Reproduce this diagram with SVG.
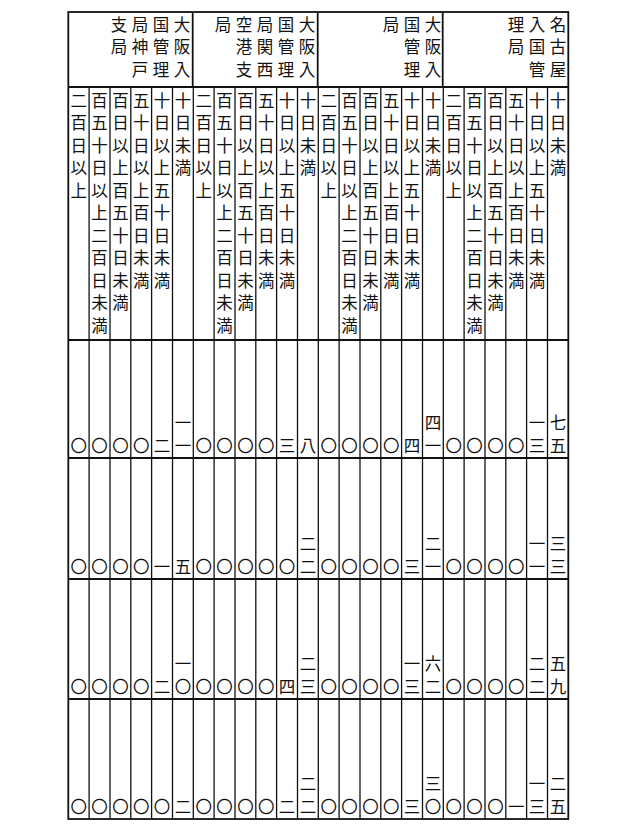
<svg xmlns="http://www.w3.org/2000/svg" width="644" height="831" viewBox="0 0 644 831">
<style>
text{font-family:"Noto Sans CJK JP","Noto Sans CJK SC",sans-serif;font-size:16.5px;fill:#111;text-anchor:middle}
.v{writing-mode:vertical-rl;letter-spacing:6px;text-anchor:start}
line{stroke:#111;stroke-width:1.3}
.b{stroke-width:1.8}
</style>
<rect width="644" height="831" fill="#fff"/>
<g id="grid">
<rect x="68.3" y="12" width="500" height="807" fill="none" stroke="#111" stroke-width="1.8"/>
<line x1="68.3" y1="87" x2="568.3" y2="87" class="b"/>
<line x1="68.3" y1="340" x2="568.3" y2="340" class="b"/>
<line x1="68.3" y1="458" x2="568.3" y2="458" class="b"/>
<line x1="68.3" y1="579" x2="568.3" y2="579" class="b"/>
<line x1="68.3" y1="699" x2="568.3" y2="699" class="b"/>
<line x1="192.7" y1="12" x2="192.7" y2="87" class="b"/>
<line x1="317.7" y1="12" x2="317.7" y2="87" class="b"/>
<line x1="442.7" y1="12" x2="442.7" y2="87" class="b"/>
<line x1="89.1" y1="87" x2="89.1" y2="819"/><line x1="110" y1="87" x2="110" y2="819"/><line x1="130.8" y1="87" x2="130.8" y2="819"/><line x1="151.6" y1="87" x2="151.6" y2="819"/><line x1="172.5" y1="87" x2="172.5" y2="819"/><line x1="193.3" y1="87" x2="193.3" y2="819"/><line x1="214.1" y1="87" x2="214.1" y2="819"/><line x1="235" y1="87" x2="235" y2="819"/><line x1="255.8" y1="87" x2="255.8" y2="819"/><line x1="276.6" y1="87" x2="276.6" y2="819"/><line x1="297.5" y1="87" x2="297.5" y2="819"/><line x1="318.3" y1="87" x2="318.3" y2="819"/><line x1="339.1" y1="87" x2="339.1" y2="819"/><line x1="360" y1="87" x2="360" y2="819"/><line x1="380.8" y1="87" x2="380.8" y2="819"/><line x1="401.6" y1="87" x2="401.6" y2="819"/><line x1="422.5" y1="87" x2="422.5" y2="819"/><line x1="443.3" y1="87" x2="443.3" y2="819"/><line x1="464.1" y1="87" x2="464.1" y2="819"/><line x1="485" y1="87" x2="485" y2="819"/><line x1="505.8" y1="87" x2="505.8" y2="819"/><line x1="526.6" y1="87" x2="526.6" y2="819"/><line x1="547.5" y1="87" x2="547.5" y2="819"/>
</g>
<g id="headers">
<text class="v" x="558" y="16">名古屋</text><text class="v" x="537" y="16">入国管</text><text class="v" x="516" y="16">理局</text>
<text class="v" x="433" y="16">大阪入</text><text class="v" x="412" y="16">国管理</text><text class="v" x="391" y="16">局</text>
<text class="v" x="307" y="16">大阪入</text><text class="v" x="286" y="16">国管理</text><text class="v" x="265" y="16">局関西</text><text class="v" x="244" y="16">空港支</text><text class="v" x="223" y="16">局</text>
<text class="v" x="182" y="16">大阪入</text><text class="v" x="161" y="16">国管理</text><text class="v" x="140" y="16">局神戸</text><text class="v" x="119" y="16">支局</text>
</g>
<g id="rowlabels">
<text class="v" x="557.9" y="92">十日未満</text><text class="v" x="537" y="92">十日以上五十日未満</text><text class="v" x="516.2" y="92">五十日以上百日未満</text><text class="v" x="495.4" y="92">百日以上百五十日未満</text><text class="v" x="474.5" y="92">百五十日以上二百日未満</text><text class="v" x="453.7" y="92">二百日以上</text>
<text class="v" x="432.9" y="92">十日未満</text><text class="v" x="412" y="92">十日以上五十日未満</text><text class="v" x="391.2" y="92">五十日以上百日未満</text><text class="v" x="370.4" y="92">百日以上百五十日未満</text><text class="v" x="349.5" y="92">百五十日以上二百日未満</text><text class="v" x="328.7" y="92">二百日以上</text>
<text class="v" x="307.9" y="92">十日未満</text><text class="v" x="287" y="92">十日以上五十日未満</text><text class="v" x="266.2" y="92">五十日以上百日未満</text><text class="v" x="245.4" y="92">百日以上百五十日未満</text><text class="v" x="224.5" y="92">百五十日以上二百日未満</text><text class="v" x="203.7" y="92">二百日以上</text>
<text class="v" x="182.9" y="92">十日未満</text><text class="v" x="162" y="92">十日以上五十日未満</text><text class="v" x="141.2" y="92">五十日以上百日未満</text><text class="v" x="120.4" y="92">百日以上百五十日未満</text><text class="v" x="99.5" y="92">百五十日以上二百日未満</text><text class="v" x="78.7" y="92">二百日以上</text>
</g>
<g id="row1">
<text x="78.7" y="452">〇</text><text x="99.5" y="452">〇</text><text x="120.4" y="452">〇</text><text x="141.2" y="452">〇</text><text x="162" y="452">二</text><text x="182.9" y="429">一</text><text x="182.9" y="452">一</text><text x="203.7" y="452">〇</text><text x="224.5" y="452">〇</text><text x="245.4" y="452">〇</text><text x="266.2" y="452">〇</text><text x="287" y="452">三</text><text x="307.9" y="452">八</text><text x="328.7" y="452">〇</text><text x="349.5" y="452">〇</text><text x="370.4" y="452">〇</text><text x="391.2" y="452">〇</text><text x="412" y="452">四</text><text x="432.9" y="429">四</text><text x="432.9" y="452">一</text><text x="453.7" y="452">〇</text><text x="474.5" y="452">〇</text><text x="495.4" y="452">〇</text><text x="516.2" y="452">〇</text><text x="537" y="429">一</text><text x="537" y="452">三</text><text x="557.9" y="429">七</text><text x="557.9" y="452">五</text>
</g>
<g id="row2">
<text x="78.7" y="573">〇</text><text x="99.5" y="573">〇</text><text x="120.4" y="573">〇</text><text x="141.2" y="573">〇</text><text x="162" y="573">一</text><text x="182.9" y="573">五</text><text x="203.7" y="573">〇</text><text x="224.5" y="573">〇</text><text x="245.4" y="573">〇</text><text x="266.2" y="573">〇</text><text x="287" y="573">〇</text><text x="307.9" y="550">二</text><text x="307.9" y="573">二</text><text x="328.7" y="573">〇</text><text x="349.5" y="573">〇</text><text x="370.4" y="573">〇</text><text x="391.2" y="573">〇</text><text x="412" y="573">三</text><text x="432.9" y="550">二</text><text x="432.9" y="573">一</text><text x="453.7" y="573">〇</text><text x="474.5" y="573">〇</text><text x="495.4" y="573">〇</text><text x="516.2" y="573">〇</text><text x="537" y="550">一</text><text x="537" y="573">一</text><text x="557.9" y="550">三</text><text x="557.9" y="573">三</text>
</g>
<g id="row3">
<text x="78.7" y="693">〇</text><text x="99.5" y="693">〇</text><text x="120.4" y="693">〇</text><text x="141.2" y="693">〇</text><text x="162" y="693">二</text><text x="182.9" y="670">一</text><text x="182.9" y="693">〇</text><text x="203.7" y="693">〇</text><text x="224.5" y="693">〇</text><text x="245.4" y="693">〇</text><text x="266.2" y="693">〇</text><text x="287" y="693">四</text><text x="307.9" y="670">二</text><text x="307.9" y="693">三</text><text x="328.7" y="693">〇</text><text x="349.5" y="693">〇</text><text x="370.4" y="693">〇</text><text x="391.2" y="693">〇</text><text x="412" y="670">一</text><text x="412" y="693">三</text><text x="432.9" y="670">六</text><text x="432.9" y="693">二</text><text x="453.7" y="693">〇</text><text x="474.5" y="693">〇</text><text x="495.4" y="693">〇</text><text x="516.2" y="693">〇</text><text x="537" y="670">二</text><text x="537" y="693">二</text><text x="557.9" y="670">五</text><text x="557.9" y="693">九</text>
</g>
<g id="row4">
<text x="78.7" y="813">〇</text><text x="99.5" y="813">〇</text><text x="120.4" y="813">〇</text><text x="141.2" y="813">〇</text><text x="162" y="813">〇</text><text x="182.9" y="813">二</text><text x="203.7" y="813">〇</text><text x="224.5" y="813">〇</text><text x="245.4" y="813">〇</text><text x="266.2" y="813">〇</text><text x="287" y="813">二</text><text x="307.9" y="790">二</text><text x="307.9" y="813">二</text><text x="328.7" y="813">〇</text><text x="349.5" y="813">〇</text><text x="370.4" y="813">〇</text><text x="391.2" y="813">〇</text><text x="412" y="813">三</text><text x="432.9" y="790">三</text><text x="432.9" y="813">〇</text><text x="453.7" y="813">〇</text><text x="474.5" y="813">〇</text><text x="495.4" y="813">〇</text><text x="516.2" y="813">一</text><text x="537" y="790">一</text><text x="537" y="813">三</text><text x="557.9" y="790">二</text><text x="557.9" y="813">五</text>
</g>
</svg>
